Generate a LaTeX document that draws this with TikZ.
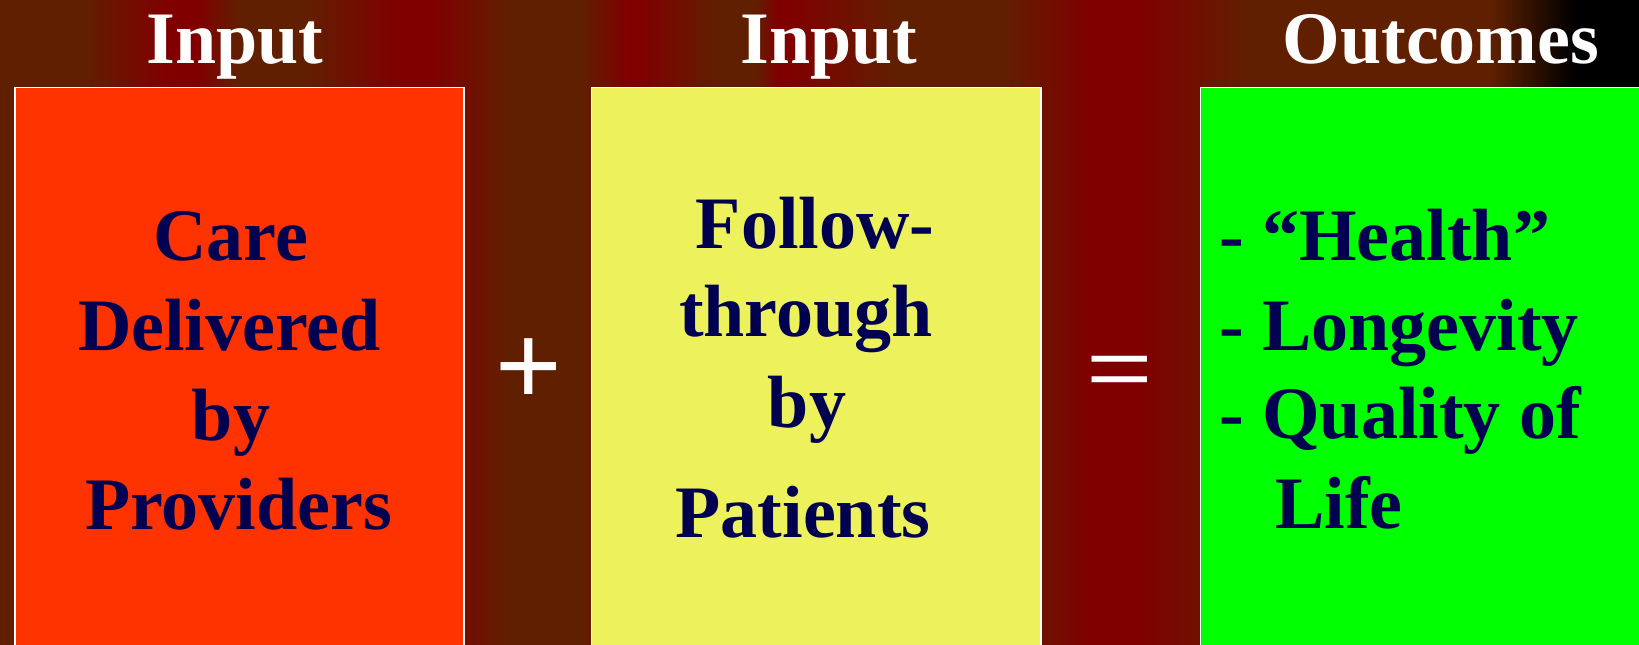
\documentclass[tikz,border=0pt]{standalone}
\usepackage{fontspec}
\setmainfont{Liberation Serif}
\newfontfamily\opfont{Liberation Sans}

\definecolor{bgbrown}{RGB}{96,32,0}
\definecolor{bgred}{RGB}{128,0,0}
\definecolor{boxred}{RGB}{255,51,0}
\definecolor{boxyellow}{RGB}{236,241,92}
\definecolor{boxgreen}{RGB}{0,255,0}
\definecolor{ink}{RGB}{0,0,80}

\tikzset{
  panel/.style={draw=white, line width=1.5pt, anchor=north west, inner sep=0pt,
                minimum width=#1, minimum height=580pt},
  heading/.style={anchor=base, inner sep=0pt, text=white,
                  font=\fontsize{74}{89}\selectfont\bfseries},
  body/.style={anchor=base, inner sep=0pt, text=ink,
               font=\fontsize{74}{89}\selectfont\bfseries},
  bullet/.style={body, anchor=base west},
  operator/.style={anchor=base, inner sep=0pt, text=white,
                   font=\fontsize{114}{130}\opfont},
}

% one vertical band of the striped backdrop
\newcommand\bgband[4]{\shade[left color=#3, right color=#4] (#1,0) rectangle (#2+0.6,645);}

\begin{document}
\begin{tikzpicture}[x=1pt, y=-1pt]
\useasboundingbox (0,0) rectangle (1639,645);
\clip (0,0) rectangle (1639,645);

% striped brown / dark red backdrop, fading to black at the top right
\bgband{0}{80}{bgbrown}{bgbrown}
\bgband{80}{165}{bgbrown}{bgred}
\bgband{165}{198}{bgred}{bgred}
\bgband{198}{239}{bgred}{bgbrown}
\bgband{239}{302}{bgbrown}{bgbrown}
\bgband{302}{400}{bgbrown}{bgred}
\bgband{400}{432}{bgred}{bgred}
\bgband{432}{510}{bgred}{bgbrown}
\bgband{510}{580}{bgbrown}{bgbrown}
\bgband{580}{627}{bgbrown}{bgred}
\bgband{627}{641}{bgred}{bgred}
\bgband{641}{720}{bgred}{bgbrown}
\bgband{720}{755}{bgbrown}{bgbrown}
\bgband{755}{777}{bgbrown}{bgred}
\bgband{777}{790}{bgred}{bgred}
\bgband{790}{900}{bgred}{bgbrown}
\bgband{900}{1000}{bgbrown}{bgbrown}
\bgband{1000}{1090}{bgbrown}{bgred}
\bgband{1090}{1141}{bgred}{bgred}
\bgband{1141}{1250}{bgred}{bgbrown}
\bgband{1250}{1490}{bgbrown}{bgbrown}
\bgband{1490}{1573}{bgbrown}{black}
\bgband{1573}{1639}{black}{black}

% headings
\node[heading] (h1) at (235,63) {Input};
\node[heading] (h2) at (829,63) {Input};
\node[heading] (h3) at (1441,63) {Outcomes};

% the three panels
\node[panel=449pt, fill=boxred] (care) at (14,86.5) {};
\node[panel=449.5pt, fill=boxyellow] (follow) at (590.5,86.5) {};
\node[panel=460pt, fill=boxgreen] (outcome) at (1199.5,86.5) {};

% providers panel
\node[body] (c1) at (230.5,260) {Care};
\node[body] (c2) at (229.5,350) {Delivered};
\node[body] (c3) at (231,440) {by};
\node[body] (c4) at (238.5,529) {Providers};

% patients panel
\node[body] (f1) at (815,248) {Follow-};
\node[body] (f2) at (806,336) {through};
\node[body] (f3) at (807,427) {by};
\node[body] (f4) at (803,537) {Patients};

% outcomes panel
\node[bullet] (o1) at (1219,260) {- “Health”};
\node[bullet] (o2) at (1219,350) {- Longevity};
\node[bullet] (o3) at (1219,438) {- Quality of};
\node[bullet] (o4) at (1275,528) {Life};

% operators between the panels
\node[operator] (plus) at (529,404) {+};
\node[operator] (equals) at (1120,396) {\scalebox{1}[0.72]{=}};
\end{tikzpicture}
\end{document}
